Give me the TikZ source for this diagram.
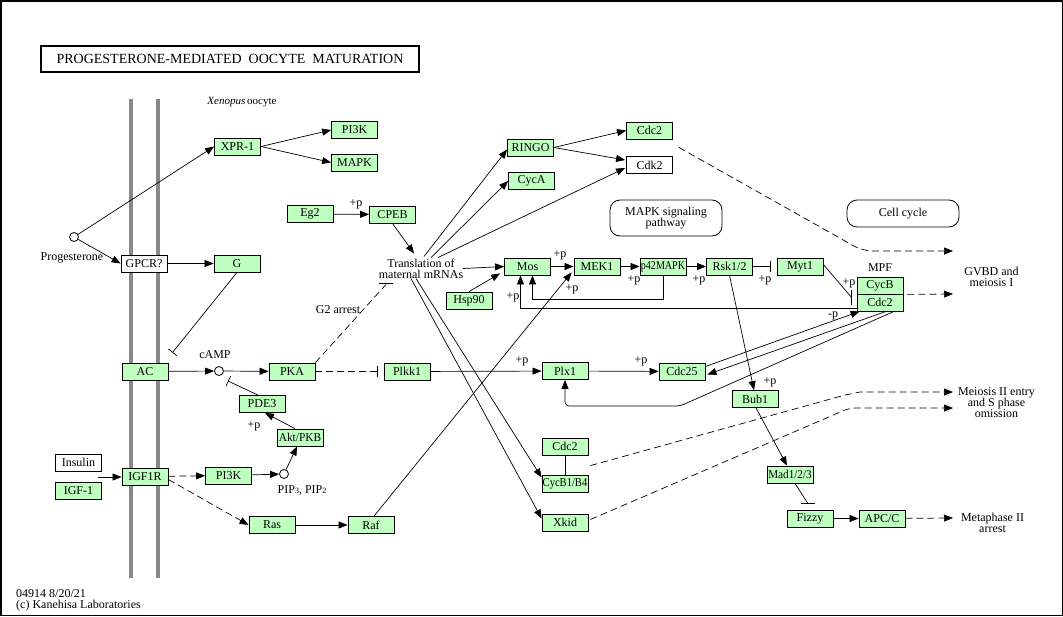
\documentclass[tikz,border=0pt]{standalone}
\usepackage{fontspec}
\setmainfont{Liberation Serif}
\usetikzlibrary{arrows.meta,calc}
\definecolor{kgreen}{HTML}{BFFFBF}
\definecolor{kgray}{HTML}{888888}
\begin{document}
\begin{tikzpicture}[x=1pt,y=-1pt,
  box/.style={draw, fill=kgreen, minimum width=46pt, minimum height=17pt, inner sep=0pt, font=\fontsize{12}{12}\selectfont, line width=0.8pt},
  wbox/.style={box, fill=white},
  arr/.style={-{Triangle[length=9pt,width=7pt]}, line width=0.7pt},
  dsh/.style={dash pattern=on 7pt off 4pt, line width=0.7pt},
  darr/.style={arr, dash pattern=on 7pt off 4pt},
  inh/.style={-{Bar[width=11pt]}, line width=0.7pt},
  dinh/.style={inh, dash pattern=on 7pt off 4pt},
  lbl/.style={font=\fontsize{12}{11}\selectfont, inner sep=0pt, align=center},
  circ/.style={circle, draw, fill=white, minimum size=9pt, inner sep=0pt, line width=0.8pt},
  pl/.style={font=\fontsize{12}{12}\selectfont, inner sep=0pt},
  pathbox/.style={draw, rounded corners=10pt, minimum width=112pt, inner sep=0pt, line width=0.8pt, font=\fontsize{12}{11}\selectfont, align=center}
]
\useasboundingbox (0,0) rectangle (1063,616);
\draw[line width=1.5pt] (0.75,0.75) rectangle (1062.25,615.25);
% membrane
\draw[kgray, line width=4pt] (131,99) -- (131,578);
\draw[kgray, line width=4pt] (158,99) -- (158,578);
% title
\node[draw, line width=1.5pt, minimum width=378pt, minimum height=26pt, inner sep=0pt, font=\fontsize{14}{14}\selectfont] (title) at (230,59) {PROGESTERONE-MEDIATED\ \ OOCYTE\ \ MATURATION};
\node[lbl, font=\fontsize{11}{11}\selectfont] (xen) at (242,102) {\textit{Xenopus}\,oocyte};
% nodes
\node[box] (xpr) at (237.5,146.5) {XPR-1};
\node[box] (pi3ka) at (354.5,130) {PI3K};
\node[box] (mapk) at (354.5,162.5) {MAPK};
\node[box] (eg2) at (310,214) {Eg2};
\node[box] (cpeb) at (392.5,214.5) {CPEB};
\node[box] (ringo) at (530.5,147.5) {RINGO};
\node[box] (cyca) at (531.5,181) {CycA};
\node[box] (cdc2a) at (649.5,130.5) {Cdc2};
\node[wbox] (cdk2) at (649.5,165) {Cdk2};
\node[box] (mos) at (527.5,266.5) {Mos};
\node[box] (mek1) at (597,266.5) {MEK1};
\node[box] (p42) at (663,266.5) {\scalebox{0.84}[1]{p42MAPK}};
\node[box] (rsk) at (729.5,266.5) {Rsk1/2};
\node[box] (myt1) at (800,266.5) {Myt1};
\node[box] (cycb) at (880,285.5) {CycB};
\node[box] (cdc2m) at (880,302.5) {Cdc2};
\node[lbl] (mpf) at (880,268) {MPF};
\node[box] (hsp90) at (469,300.5) {Hsp90};
\node[wbox] (gpcr) at (144,263.5) {GPCR?};
\node[box] (g) at (237,263.5) {G};
\node[box] (ac) at (145,371.5) {AC};
\node[box] (pka) at (292,371.5) {PKA};
\node[box] (plkk1) at (407,371.5) {Plkk1};
\node[box] (pde3) at (262,404) {PDE3};
\node[box] (akt) at (300,437.5) {\scalebox{0.95}[1]{Akt/PKB}};
\node[box] (igf1r) at (145,476.5) {IGF1R};
\node[box] (pi3kb) at (228.5,475.5) {PI3K};
\node[box] (ras) at (272,525) {Ras};
\node[box] (raf) at (371,525) {Raf};
\node[wbox] (insulin) at (78.5,462.5) {Insulin};
\node[box] (igf1) at (78.5,491) {IGF-1};
\node[box] (plx1) at (565,371) {Plx1};
\node[box] (cdc25) at (682,371.5) {Cdc25};
\node[box] (cdc2b) at (565,446.5) {Cdc2};
\node[box] (cycb1) at (565,483.5) {\scalebox{0.88}[1]{CycB1/B4}};
\node[box] (xkid) at (565,522.5) {Xkid};
\node[box] (bub1) at (755,399) {Bub1};
\node[box] (mad) at (790,474.5) {\scalebox{0.93}[1]{Mad1/2/3}};
\node[box] (fizzy) at (810,518.5) {Fizzy};
\node[box] (apcc) at (882,518.5) {APC/C};
% pathway boxes
\node[pathbox, minimum height=36pt] (mapkpath) at (666,218) {MAPK signaling\\pathway};
\node[pathbox, minimum height=27pt] (cellcycle) at (903,213.5) {Cell cycle};
% compounds
\node[circ] (prog) at (74,237) {};
\node[lbl] (progl) at (72,258) {Progesterone};
\node[circ] (camp) at (219,371) {};
\node[lbl] (campl) at (215,355) {cAMP};
\node[circ] (pip) at (284,474) {};
\node[lbl] (pipl) at (302,490) {PIP{\fontsize{8}{8}\selectfont 3}, PIP{\fontsize{8}{8}\selectfont 2}};
% text labels
\node[lbl] (trans) at (421,268.5) {Translation of\\maternal mRNAs};
\node[lbl] (g2) at (338,310) {G2 arrest};
\node[lbl] (gvbd) at (991.5,276.5) {GVBD and\\meiosis I};
\node[lbl] (meio) at (996.5,403) {Meiosis II entry\\and S phase\\omission};
\node[lbl] (meta) at (992.5,523) {Metaphase II\\arrest};
\node[lbl, anchor=west, align=left] (copy) at (16,600.5) {04914 8/20/21\\(c) Kanehisa Laboratories};
% +p labels
\node[pl] (p1) at (356,204) {+p};
\node[pl] (p2) at (560,255) {+p};
\node[pl] (p3) at (572,289) {+p};
\node[pl] (p4) at (634,280) {+p};
\node[pl] (p5) at (513,297) {+p};
\node[pl] (p6) at (699,280) {+p};
\node[pl] (p7) at (765,280) {+p};
\node[pl] (p8) at (849,283) {+p};
\node[pl] (p9) at (833,316) {-p};
\node[pl] (p10) at (522,361) {+p};
\node[pl] (p11) at (641,361) {+p};
\node[pl] (p12) at (770,382) {+p};
\node[pl] (p13) at (254,426) {+p};
% free-end coordinates
\coordinate (insc) at (98,477);
\coordinate (gv1) at (953,251);
\coordinate (gv2) at (953,294);
\coordinate (me1) at (953,392);
\coordinate (me2) at (953,408);
\coordinate (metaend) at (953,518);
\coordinate (bendA) at (680,406);
% edges
\draw[arr] (prog) -- (xpr.west);
\draw[arr] (prog) -- (gpcr.west);
\draw[arr] (gpcr) -- (g);
\draw[arr] (xpr.east) -- (pi3ka.west);
\draw[arr] (xpr.east) -- (mapk.west);
\draw[inh] (g.south) -- ($(ac.north east)+(4,-10)$);
\draw[arr] (ac) -- (camp);
\draw[arr] (camp) -- (pka);
\draw[inh] ($(pde3.north)+(-4,0)$) -- ($(camp)+(9,10)$);
\draw[arr] ($(akt.north)+(-5,0)$) -- ($(pde3.south)+(3,0)$);
\draw[arr] (pip) -- ($(akt.south)+(-3,0)$);
\draw[arr] (pi3kb) -- (pip);
\draw[darr] (igf1r) -- (pi3kb);
\draw[darr] ($(igf1r.east)+(0,3)$) -- (ras.west);
\draw[arr] (ras) -- (raf);
\draw[arr] ($(raf.north)+(3,0)$) -- ($(mek1.south west)+(-2,-3)$);
\draw[arr] (insc) -- (igf1r.west |- insc);
\draw[dinh] (pka.east) -- ($(plkk1.west)+(-6,0)$);
\draw[dsh] (pka.north east) -- ($(trans)+(-35,16)$);
\draw[line width=0.7pt] ($(trans)+(-42,15)$) -- ($(trans)+(-28,15)$);
\draw[arr] (eg2) -- (cpeb);
\draw[arr] (cpeb.south) -- ($(trans)+(-7,-15)$);
\draw[arr] ($(trans)+(3,-12)$) -- ($(ringo.west)+(0,2)$);
\draw[arr] ($(trans)+(10,-11)$) -- (cyca.west);
\draw[arr] ($(trans)+(17,-11)$) -- ($(cdk2.west)+(-1,3)$);
\draw[arr] ($(trans)+(42,0)$) -- (mos.west);
\draw[arr] (hsp90.north) -- ($(mos.south west)+(-4,-2)$);
\draw[arr] ($(trans)+(-10,10)$) -- ($(xkid.west)+(0,-4)$);
\draw[arr] ($(trans)+(-5,10)$) -- ($(cycb1.west)+(0,-6)$);
\draw[arr] (ringo.east) -- (cdc2a.west);
\draw[arr] (ringo.east) -- ($(cdk2.west)+(-1,-5)$);
\draw[darr] ($(cdc2a.south east)+(6,8)$) -- (845,241) .. controls (855,247) and (862,251) .. (875,251) -- (gv1);
\draw[arr] (mos) -- (mek1);
\draw[arr] (mek1) -- (p42);
\draw[arr] (p42) -- (rsk);
\draw[inh] (rsk) -- ($(myt1.west)+(-6,0)$);
\draw[line width=0.7pt] ($(myt1.east)+(0,-2)$) -- ($(cycb.west)+(-5,12)$);
\draw[line width=0.7pt] ($(cycb.west)+(-5,4.5)$) -- ($(cycb.west)+(-5,19.5)$);
\draw[arr] (p42.south) -- ++(0,24) -| ($(mos.south)+(5,0)$);
\draw[arr] ($(cdc2m.west)+(0,5.5)$) -| ($(mos.south)+(-7,0)$);
\draw[arr] ($(cdc25.east)+(0,-5)$) -- ($(cdc2m.south west)+(3,0)$);
\draw[arr] ($(cdc2m.south)+(6,0)$) -- ($(cdc25.east)+(2,3)$);
\draw[arr, rounded corners=4pt] ($(cdc2m.south)+(14,0)$) -- (bendA) -- (plx1.south |- bendA) -- (plx1.south);
\draw[arr] (plkk1) -- (plx1);
\draw[arr] (plx1) -- (cdc25);
\draw[arr] (rsk.south) -- ($(bub1.north)+(-1,0)$);
\draw[arr] ($(bub1.south)+(1,0)$) -- ($(mad.north)+(-3,0)$);
\draw[line width=0.7pt] ($(mad.south)+(5,0)$) -- ($(fizzy.north)+(-2,-6)$);
\draw[line width=0.7pt] ($(fizzy.north)+(-9,-6)$) -- ($(fizzy.north)+(5,-6)$);
\draw[arr] (fizzy) -- (apcc);
\draw[darr] (apcc) -- (metaend);
\draw[darr] ($(cycb.south east)+(4,0)$) -- (gv2);
\draw[line width=0.7pt] (cdc2b) -- (cycb1);
\draw[darr] ($(cycb1.north east)+(2,-9)$) -- (845,395) .. controls (852,393) .. (860,392) -- (me1);
\draw[darr] ($(xkid.east)+(2,-3)$) -- (845,410) .. controls (852,408) .. (860,408) -- (me2);
\end{tikzpicture}
\end{document}
